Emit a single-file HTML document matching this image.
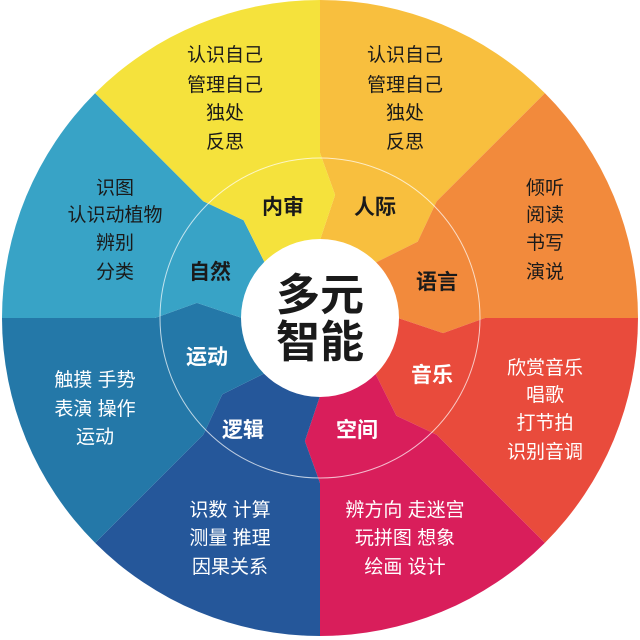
<!DOCTYPE html>
<html><head><meta charset="utf-8"><style>
html,body{margin:0;padding:0;background:#fff;width:640px;height:640px;overflow:hidden;}
svg{display:block}
text{font-family:"Liberation Sans","Noto Sans CJK SC",sans-serif;text-anchor:middle;}
.o{font-size:19px;}
.i{font-size:21px;font-weight:bold;}
.d{fill:#1a1a1a}
.w{fill:#fff}
</style></head><body>
<svg width="640" height="640" viewBox="0 0 640 640">
<defs><clipPath id="c"><circle cx="320" cy="318" r="318"/></clipPath></defs>
<g clip-path="url(#c)">
<polygon fill="#f8bf3e" points="320,0 320,153 335.1,194.9 320,240 320,318 375.2,262.8 417.7,241.6 436.7,201.3 638,0"/>
<polygon fill="#f28a3c" points="638,0 436.7,201.3 417.7,241.6 375.2,262.8 320,318 398,318 443.1,333.1 485,318 640,318"/>
<polygon fill="#e94b3c" points="640,318 485,318 443.1,333.1 398,318 320,318 375.2,373.2 396.4,415.7 436.7,434.7 638,636"/>
<polygon fill="#d91e5b" points="638,636 436.7,434.7 396.4,415.7 375.2,373.2 320,318 320,396 304.9,441.1 320,483 320,640"/>
<polygon fill="#25579a" points="320,640 320,483 304.9,441.1 320,396 320,318 264.8,373.2 222.3,394.4 203.3,434.7 2,636"/>
<polygon fill="#2478a8" points="2,636 203.3,434.7 222.3,394.4 264.8,373.2 320,318 242,318 196.9,302.9 155,318 0,318"/>
<polygon fill="#38a3c6" points="0,318 155,318 196.9,302.9 242,318 320,318 264.8,262.8 243.6,220.3 203.3,201.3 2,0"/>
<polygon fill="#f5e23c" points="2,0 203.3,201.3 243.6,220.3 264.8,262.8 320,318 320,240 335.1,194.9 320,153 320,0"/>
</g>
<circle cx="320" cy="318" r="160" fill="none" stroke="#fff" stroke-opacity="0.7" stroke-width="1"/>
<circle cx="320" cy="318" r="79" fill="#fff"/>
<text x="320" y="310" style="font-size:44px;font-weight:bold" class="d">多元</text>
<text x="320" y="357" style="font-size:44px;font-weight:bold" class="d">智能</text>

<text class="i d" x="283" y="214">内审</text>
<text class="i d" x="375" y="214">人际</text>
<text class="i d" x="437" y="289">语言</text>
<text class="i w" x="432" y="382">音乐</text>
<text class="i w" x="357" y="437">空间</text>
<text class="i w" x="243" y="437">逻辑</text>
<text class="i w" x="207" y="364">运动</text>
<text class="i d" x="210" y="279">自然</text>

<g class="o d">
<text x="225" y="61">认识自己</text><text x="225" y="91">管理自己</text><text x="225" y="119">独处</text><text x="225" y="148">反思</text>
<text x="405" y="61">认识自己</text><text x="405" y="91">管理自己</text><text x="405" y="119">独处</text><text x="405" y="148">反思</text>
<text x="545" y="194">倾听</text><text x="545" y="221">阅读</text><text x="545" y="249">书写</text><text x="545" y="278">演说</text>
<text x="115" y="194">识图</text><text x="115" y="221">认识动植物</text><text x="115" y="249">辨别</text><text x="115" y="278">分类</text>
</g>
<g class="o w">
<text x="545" y="374">欣赏音乐</text><text x="545" y="401">唱歌</text><text x="545" y="429">打节拍</text><text x="545" y="458">识别音调</text>
<text x="405" y="516">辨方向 走迷宫</text><text x="405" y="544">玩拼图 想象</text><text x="405" y="573">绘画 设计</text>
<text x="230" y="516">识数 计算</text><text x="230" y="544">测量 推理</text><text x="230" y="573">因果关系</text>
<text x="95" y="386">触摸 手势</text><text x="95" y="415">表演 操作</text><text x="95" y="443">运动</text>
</g>
</svg>
</body></html>
